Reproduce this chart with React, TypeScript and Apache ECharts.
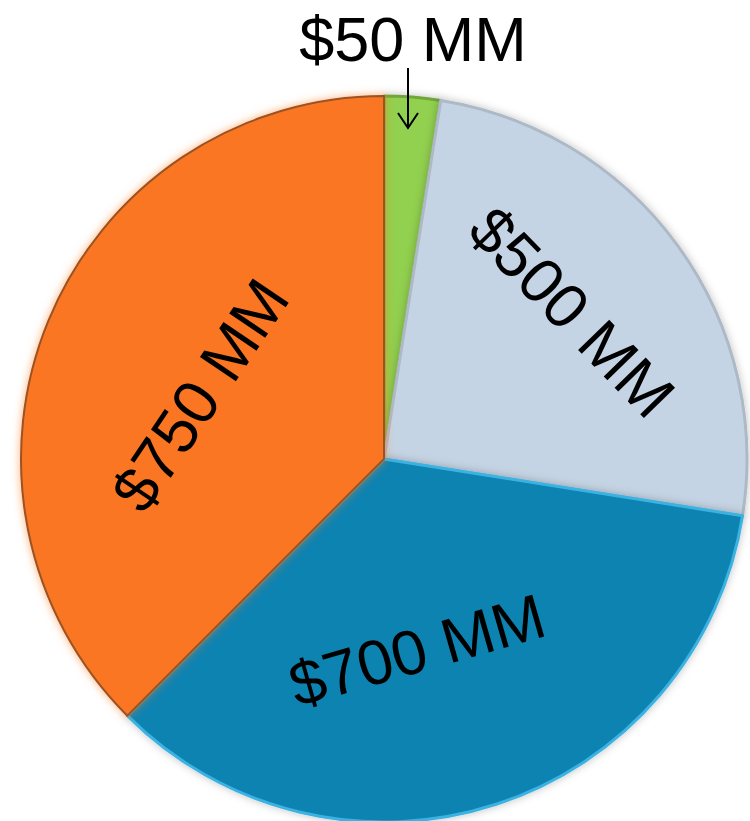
import React, { useEffect, useRef } from "react";
import * as echarts from "echarts";

const categories = ["$50 MM", "$500 MM", "$700 MM", "$750 MM"];
const values = [50, 500, 700, 750];
const colors = ["#92D050", "#C5D4E4", "#0E83B2", "#FB7621"];
const borderColors = ["#6FA63A", "#AEB9C6", "#3AB2E2", "#9A5220"];

// label placement (center point in px and rotation in degrees)
const labelX = [413, 572, 417, 200];
const labelY = [39, 312, 650, 395];
const labelRotate = [0, -46, 16, 56];

export default function App() {
  const ref = useRef<HTMLDivElement>(null);
  useEffect(() => {
    document.body.style.margin = "0";
    const chart = echarts.init(ref.current!, null, { renderer: "svg" });
    chart.setOption({
      animation: false,
      backgroundColor: "#ffffff",
      series: [
        {
          type: "pie",
          center: [384, 459],
          radius: [0, 363],
          startAngle: 90,
          clockwise: true,
          avoidLabelOverlap: false,
          data: categories.map((c, i) => ({
            name: c,
            value: values[i],
            itemStyle: {
              color: colors[i],
              borderColor: borderColors[i],
              borderWidth: i === 3 ? 2 : 3,
              shadowColor: i === 3 ? "rgba(251,118,33,0.6)" : "rgba(0,0,0,0.25)",
              shadowBlur: 8,
            },
          })),
          label: {
            show: true,
            position: "inside",
            formatter: (p: any) => p.name,
            color: "#000000",
            fontSize: 63,
            fontFamily: "Liberation Sans, Arial, sans-serif",
          },
          labelLine: { show: false },
          labelLayout: (p: any) => ({
            x: labelX[p.dataIndex],
            y: labelY[p.dataIndex],
            rotate: labelRotate[p.dataIndex],
            align: "center",
            verticalAlign: "middle",
          }),
        },
      ],
      graphic: [
        {
          type: "line",
          shape: { x1: 408, y1: 68, x2: 408, y2: 128 },
          style: { stroke: "#000", lineWidth: 2 },
          z: 100,
        },
        {
          type: "polyline",
          shape: { points: [[398, 113], [408, 128], [418, 113]] },
          style: { stroke: "#000", lineWidth: 2, fill: null },
          z: 100,
        },
      ],
    });
    return () => chart.dispose();
  }, []);
  return (
    <div
      ref={ref}
      style={{ position: "absolute", left: 0, top: 0, width: 750, height: 821 }}
    />
  );
}
